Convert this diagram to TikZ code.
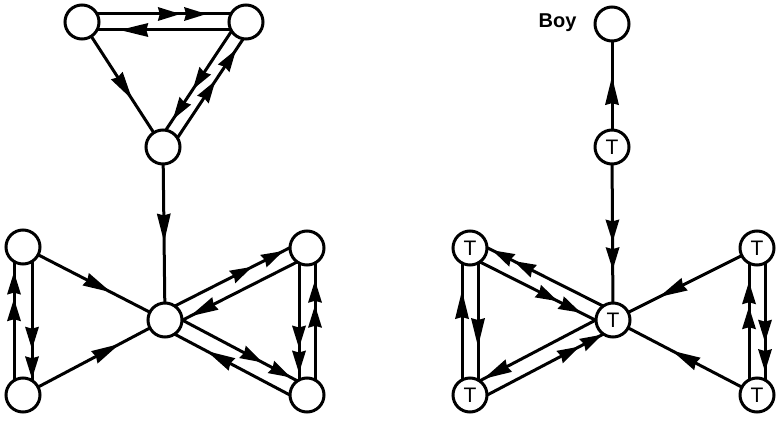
\documentclass[tikz,border=0pt]{standalone}
\usepackage{fontspec}
\setmainfont{Liberation Sans}
\usetikzlibrary{calc,decorations.markings,backgrounds}
\newcommand\headA{\fill (1.5pt,0pt) -- (-27pt,7pt) -- (-25pt,0pt) -- (-27pt,-7pt) -- cycle;}
\newcommand\headB{\fill (1.5pt,0pt) -- (-21pt,7pt) -- (-19pt,0pt) -- (-21pt,-7pt) -- cycle;}
\tikzset{
  circ/.style={circle,draw,fill=white,line width=3pt,minimum size=34pt,inner sep=0pt,font=\fontsize{21}{21}\selectfont},
  edge/.style={line width=3pt},
  one/.style={edge,postaction={decorate,decoration={markings,mark=at position #1 with {\headA}}}},
  two/.style 2 args={edge,postaction={decorate,decoration={markings,mark=at position #1 with {\headB},mark=at position #2 with {\headB}}}},
  lbl/.style={font=\bfseries\fontsize{20}{20}\selectfont}
}
\begin{document}
\begin{tikzpicture}[x=1pt,y=-1pt]
\useasboundingbox (0,0) rectangle (781,420);
% left graph nodes
\node[circ] (A) at (82,22) {};
\node[circ] (B) at (246,22) {};
\node[circ] (C) at (163,147) {};
\node[circ] (D) at (165,320) {};
\node[circ] (E) at (23,247) {};
\node[circ] (F) at (23,395) {};
\node[circ] (G) at (307,248) {};
\node[circ] (H) at (307,395) {};
% right graph nodes
\node[circ] (Boy) at (612,24) {};
\node[lbl,anchor=east] (boylbl) at (580,23) {Boy};
\node[circ] (T1) at (612,147) {T};
\node[circ] (Tc) at (613,320) {T};
\node[circ] (TLt) at (470,248) {T};
\node[circ] (TLb) at (470,395) {T};
\node[circ] (TRt) at (757,248) {T};
\node[circ] (TRb) at (757,395) {T};
\begin{scope}[on background layer]
% ---- left graph edges
\draw[two={0.59}{0.75}] ($(A)!8pt!90:(B)$) -- ($(B)!8pt!-90:(A)$);
\draw[one={0.76}] ($(B)!8pt!90:(A)$) -- ($(A)!8pt!-90:(B)$);
\draw[one={0.61}] (A.center) -- (C.center);
\draw[two={0.56}{0.8}] ($(B)!7pt!-90:(C)$) -- ($(C)!7pt!90:(B)$);
\draw[two={0.55}{0.8}] ($(C)!7pt!-90:(B)$) -- ($(B)!7pt!90:(C)$);
\draw[one={0.54}] (C.center) -- (D.center);
\draw[one={0.61}] (E.center) -- (D.center);
\draw[one={0.67}] (F.center) -- (D.center);
\draw[two={0.64}{0.82}] ($(F)!9pt!90:(E)$) -- ($(E)!9pt!-90:(F)$);
\draw[two={0.68}{0.88}] ($(E)!9pt!90:(F)$) -- ($(F)!9pt!-90:(E)$);
\draw[two={0.63}{0.85}] ($(D)!8pt!90:(G)$) -- ($(G)!8pt!-90:(D)$);
\draw[one={0.84}] ($(G)!8pt!90:(D)$) -- ($(D)!8pt!-90:(G)$);
\draw[two={0.65}{0.85}] ($(D)!8pt!90:(H)$) -- ($(H)!8pt!-90:(D)$);
\draw[one={0.67}] ($(H)!8pt!90:(D)$) -- ($(D)!8pt!-90:(H)$);
\draw[two={0.67}{0.84}] ($(G)!8pt!-90:(H)$) -- ($(H)!8pt!90:(G)$);
\draw[two={0.6}{0.77}] ($(H)!8pt!-90:(G)$) -- ($(G)!8pt!90:(H)$);
% ---- right graph edges
\draw[one={0.56}] (T1.center) -- (Boy.center);
\draw[two={0.54}{0.7}] (T1.center) -- (Tc.center);
\draw[two={0.71}{0.86}] ($(Tc)!8pt!-90:(TLt)$) -- ($(TLt)!8pt!90:(Tc)$);
\draw[two={0.63}{0.79}] ($(TLt)!8pt!-90:(Tc)$) -- ($(Tc)!8pt!90:(TLt)$);
\draw[one={0.87}] ($(Tc)!8pt!-90:(TLb)$) -- ($(TLb)!8pt!90:(Tc)$);
\draw[two={0.73}{0.89}] ($(TLb)!8pt!-90:(Tc)$) -- ($(Tc)!8pt!90:(TLb)$);
\draw[one={0.7}] ($(TLb)!8pt!90:(TLt)$) -- ($(TLt)!8pt!-90:(TLb)$);
\draw[one={0.66}] ($(TLt)!8pt!90:(TLb)$) -- ($(TLb)!8pt!-90:(TLt)$);
\draw[one={0.67}] (TRt.center) -- (Tc.center);
\draw[one={0.58}] (TRb.center) -- (Tc.center);
\draw[two={0.59}{0.76}] ($(TRb)!8pt!90:(TRt)$) -- ($(TRt)!8pt!-90:(TRb)$);
\draw[two={0.63}{0.83}] ($(TRt)!8pt!90:(TRb)$) -- ($(TRb)!8pt!-90:(TRt)$);
\end{scope}
\end{tikzpicture}
\end{document}
